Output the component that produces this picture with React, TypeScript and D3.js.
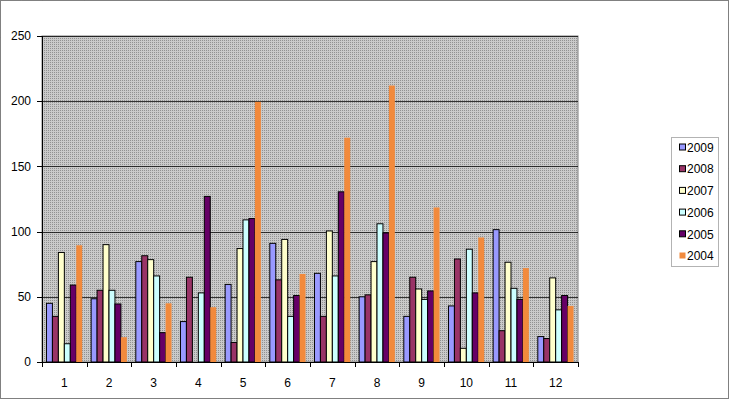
import React from 'react';
import * as d3 from 'd3';

const categories = ['1', '2', '3', '4', '5', '6', '7', '8', '9', '10', '11', '12'];
const seriesNames = ['2009', '2008', '2007', '2006', '2005', '2004'];
const values2009 = [45, 48.5, 77, 31, 59.5, 91, 68, 50, 35, 43, 101.5, 19.5];
const values2008 = [35, 55, 81.5, 65, 15, 63, 35, 51.5, 65, 79, 24, 18];
const values2007 = [84, 90, 78.5, 0, 87, 94, 100.5, 77, 56, 10.5, 76.5, 64.5];
const values2006 = [14, 55, 66, 53, 109, 35, 66, 106, 48, 86.5, 56.5, 40];
const values2005 = [59, 44.5, 22.5, 127, 110, 51, 130.5, 99, 54.5, 53, 48, 51];
const values2004 = [89.5, 19, 45, 42, 199.5, 67.5, 172, 212, 118.5, 95.5, 72, 43];
const yTicks = [0, 50, 100, 150, 200, 250];

const seriesValues = [values2009, values2008, values2007, values2006, values2005, values2004];
const fills = ['#9999FF', '#993366', '#FFFFCC', '#CCFFFF', '#660066', '#F28A3C'];
const strokes = ['#000', '#000', '#000', '#000', '#000', 'none'];

const font = '"Liberation Sans", Arial, sans-serif';

const App = () => {
  const width = 729;
  const height = 399;
  const plot = { left: 42, right: 578, top: 36, bottom: 362 };

  const x = d3.scaleBand<string>()
    .domain(categories)
    .range([plot.left, plot.right])
    .paddingInner(0.2)
    .paddingOuter(0.1);

  const xInner = d3.scaleBand<string>()
    .domain(seriesNames)
    .range([0, x.bandwidth()]);

  const y = d3.scaleLinear()
    .domain([0, 250])
    .range([plot.bottom, plot.top]);

  const step = (plot.right - plot.left) / categories.length;
  const xTicks = d3.range(categories.length + 1).map(i => plot.left + i * step);

  return (
    <svg width={width} height={height} style={{ position: 'absolute', left: 0, top: 0 }}
      fontFamily={font} fontSize={12}>
      <defs>
        <pattern id="dots" width={2} height={2} patternUnits="userSpaceOnUse">
          <rect width={2} height={2} fill="#CACACA" />
          <rect width={1} height={1} fill="#919191" />
        </pattern>
      </defs>
      <rect x={0} y={0} width={width} height={height} fill="#fff" />
      <rect x={0.5} y={0.5} width={width - 1} height={height - 1} fill="none"
        stroke="#000" strokeDasharray="1,1" />

      <rect x={plot.left} y={plot.top} width={plot.right - plot.left}
        height={plot.bottom - plot.top} fill="url(#dots)" stroke="#808080" />

      {yTicks.filter(t => t > 0).map(t => (
        <line key={t} x1={plot.left} x2={plot.right} y1={Math.round(y(t)) + 0.5}
          y2={Math.round(y(t)) + 0.5} stroke="#000" strokeOpacity={0.75} />
      ))}

      {seriesNames.map((s, si) => (
        <g key={s}>
          {categories.map((c, ci) => {
            const v = seriesValues[si][ci];
            if (!v) return null;
            const bx = (x(c) ?? 0) + (xInner(s) ?? 0);
            return (
              <rect key={c} x={bx} y={y(v)} width={xInner.bandwidth()}
                height={y(0) - y(v)} fill={fills[si]} stroke={strokes[si]} strokeWidth={1} />
            );
          })}
        </g>
      ))}

      <line x1={plot.left + 0.5} x2={plot.left + 0.5} y1={plot.top} y2={plot.bottom} stroke="#000" />
      <line x1={plot.left} x2={plot.right} y1={plot.bottom + 0.5} y2={plot.bottom + 0.5} stroke="#000" />

      {yTicks.map(t => (
        <g key={t}>
          <line x1={plot.left - 5} x2={plot.left} y1={Math.round(y(t)) + 0.5}
            y2={Math.round(y(t)) + 0.5} stroke="#000" />
          <text x={plot.left - 11} y={y(t)} dy="0.35em" textAnchor="end">{t}</text>
        </g>
      ))}

      {xTicks.map((t, i) => (
        <line key={i} x1={Math.round(t) + 0.5} x2={Math.round(t) + 0.5}
          y1={plot.bottom} y2={plot.bottom + 5} stroke="#000" />
      ))}
      {categories.map(c => (
        <text key={c} x={(x(c) ?? 0) + x.bandwidth() / 2} y={383} dy="0.35em"
          textAnchor="middle">{c}</text>
      ))}

      <g>
        <rect x={671.5} y={137.5} width={47} height={129} fill="#fff" stroke="#666"
          strokeDasharray="1,1" />
        {seriesNames.map((s, i) => {
          const cy = 147.5 + i * 21.7;
          return (
            <g key={s}>
              <rect x={679.5} y={cy - 3.5} width={6} height={6} fill={fills[i]}
                stroke={strokes[i]} />
              <text x={687} y={cy} dy="0.35em">{s}</text>
            </g>
          );
        })}
      </g>
    </svg>
  );
};

export default App;
